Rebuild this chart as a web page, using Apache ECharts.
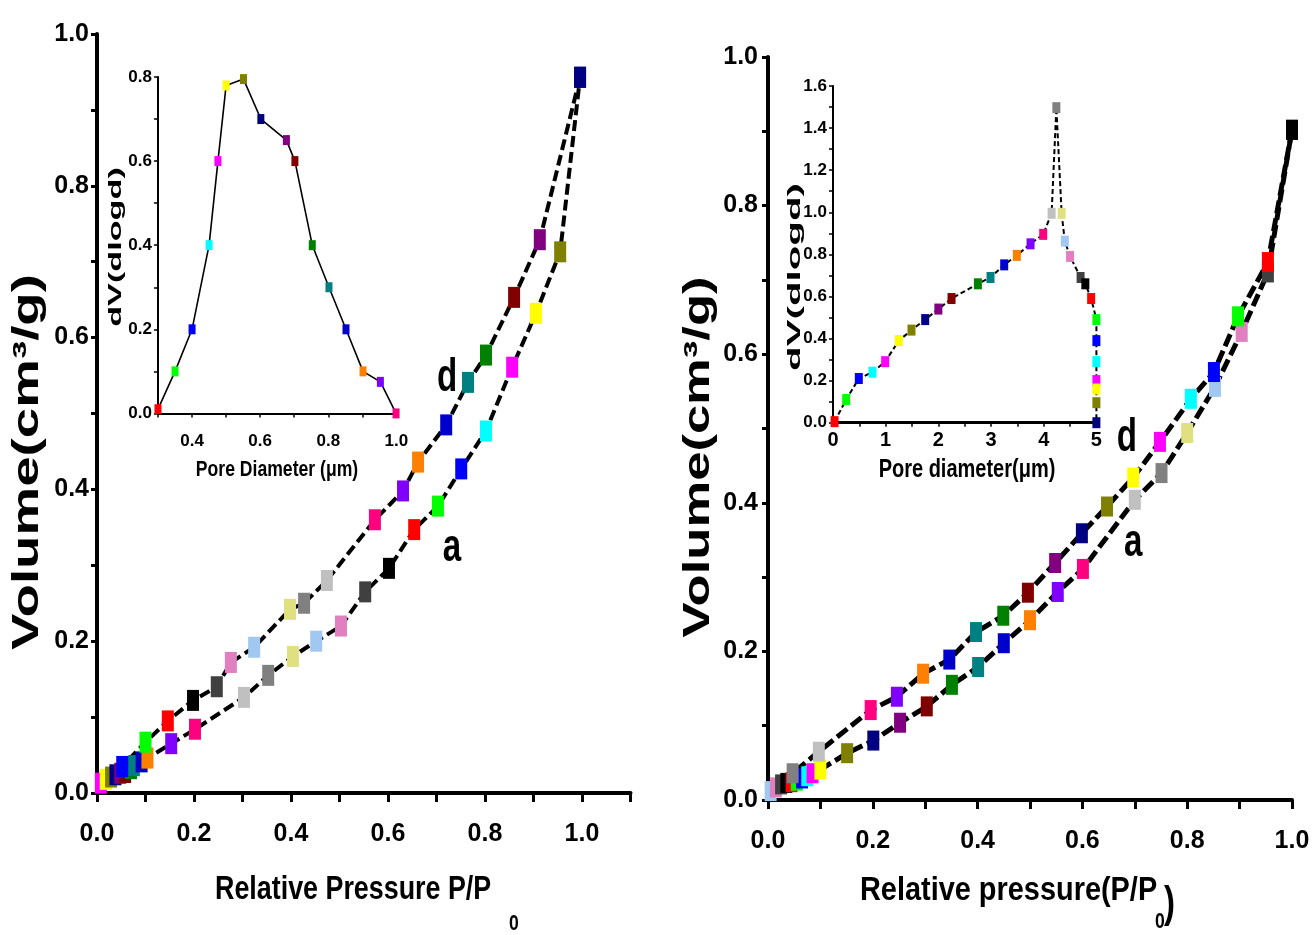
<!DOCTYPE html>
<html><head><meta charset="utf-8">
<script src="https://cdn.jsdelivr.net/npm/echarts@6/dist/echarts.min.js"></script>
<style>html,body{margin:0;padding:0;background:#fff}#c{width:1313px;height:935px}</style>
</head><body><div id="c"></div>
<script>
// ---- Origin-style palette (styles only) ----
const PAL = {black:'#000000', red:'#FF0000', green:'#00FF00', blue:'#0000FF', cyan:'#00FFFF', magenta:'#FF00FF',
  yellow:'#FFFF00', dkyellow:'#808000', navy:'#000080', purple:'#800080', wine:'#800000', olive:'#008000',
  dkcyan:'#008080', royal:'#0000CC', orange:'#FF8000', violet:'#8000FF', pink:'#FF0080', ltgray:'#C0C0C0',
  gray:'#808080', ltyellow:'#E0E080', ltblue:'#A0C8F0', ltpink:'#E080C0', dkgray:'#404040'};

// ---- Left main: isotherm (P/P0 vs volume) ----
const leftA_P = [0.008,0.018,0.029,0.038,0.048,0.058,0.070,0.076,0.092,0.104,0.153,0.202,0.303,0.353,0.404,0.452,0.503,0.553,0.602,0.654,0.703,0.751,0.802,0.856,0.905,0.955,0.996];
const leftA_V = [0.013,0.018,0.021,0.024,0.026,0.027,0.032,0.036,0.041,0.046,0.065,0.084,0.126,0.155,0.180,0.200,0.220,0.265,0.296,0.347,0.378,0.427,0.477,0.561,0.632,0.713,0.943];
const leftA_C = ['magenta','yellow','dkyellow','navy','purple','wine','olive','dkcyan','royal','orange','violet','pink','ltgray','gray','ltyellow','ltblue','ltpink','dkgray','black','red','green','blue','cyan','magenta','yellow','dkyellow','navy'];
const leftD_P = [0.996,0.913,0.860,0.802,0.765,0.720,0.662,0.631,0.573,0.474,0.427,0.398,0.324,0.276,0.247,0.198,0.146,0.100,0.052];
const leftD_V = [0.943,0.729,0.653,0.577,0.541,0.485,0.436,0.398,0.360,0.280,0.250,0.242,0.192,0.172,0.140,0.122,0.095,0.067,0.035];
const leftD_C = ['navy','purple','wine','olive','dkcyan','royal','orange','violet','pink','ltgray','gray','ltyellow','ltblue','ltpink','dkgray','black','red','green','blue'];

// ---- Right main ----
const rightA_P = [0.005,0.015,0.025,0.035,0.045,0.055,0.065,0.075,0.085,0.100,0.151,0.201,0.252,0.303,0.351,0.401,0.450,0.500,0.553,0.601,0.700,0.751,0.800,0.853,0.904,0.954,1.000];
const rightA_V = [0.012,0.017,0.021,0.023,0.024,0.026,0.029,0.032,0.036,0.041,0.063,0.080,0.104,0.126,0.155,0.179,0.211,0.242,0.280,0.311,0.404,0.440,0.494,0.556,0.630,0.710,0.902];
const rightA_C = ['ltblue','ltpink','dkgray','black','red','green','blue','cyan','magenta','yellow','dkyellow','navy','purple','wine','olive','dkcyan','royal','orange','violet','pink','ltgray','gray','ltyellow','ltblue','ltpink','dkgray','black'];
const rightD_P = [1.000,0.954,0.897,0.851,0.807,0.748,0.697,0.647,0.599,0.548,0.496,0.449,0.397,0.346,0.296,0.246,0.196,0.097,0.047];
const rightD_V = [0.902,0.724,0.651,0.576,0.540,0.482,0.434,0.395,0.359,0.319,0.279,0.248,0.226,0.189,0.170,0.139,0.121,0.065,0.036];
const rightD_C = ['black','red','green','blue','cyan','magenta','yellow','dkyellow','navy','purple','wine','olive','dkcyan','royal','orange','violet','pink','ltgray','gray'];

// ---- Left inset: pore size distribution ----
const leftIn_D = [0.30,0.35,0.40,0.45,0.476,0.50,0.551,0.602,0.677,0.702,0.753,0.802,0.852,0.902,0.953,0.999];
const leftIn_V = [0.01,0.10,0.20,0.40,0.60,0.78,0.795,0.70,0.65,0.60,0.40,0.30,0.20,0.10,0.075,0.00];
const leftIn_C = ['red','green','blue','cyan','magenta','yellow','dkyellow','navy','purple','wine','olive','dkcyan','royal','orange','violet','pink'];

// ---- Right inset ----
const rightIn_D = [0.03,0.25,0.49,0.75,0.99,1.25,1.49,1.75,2.00,2.25,2.75,2.99,3.25,3.49,3.75,3.99,4.15,4.24,4.34,4.40,4.50,4.70,4.79,4.90,5.0,5.0,5.0,5.0,5.0,5.0,5.0];
const rightIn_V = [0.005,0.11,0.21,0.24,0.29,0.39,0.44,0.49,0.54,0.59,0.66,0.69,0.75,0.795,0.85,0.895,0.995,1.497,0.995,0.863,0.79,0.69,0.66,0.59,0.49,0.39,0.29,0.20,0.16,0.095,0.0];
const rightIn_C = ['red','green','blue','cyan','magenta','yellow','dkyellow','navy','purple','wine','olive','dkcyan','royal','orange','violet','pink','ltgray','gray','ltyellow','ltblue','ltpink','dkgray','black','red','green','blue','cyan','magenta','yellow','dkyellow','navy'];

// ---- Curve labels (data coordinates) ----
const LABEL_LEFT_D = [0.722, 0.547], LABEL_LEFT_A = [0.732, 0.323];
const LABEL_RIGHT_D = [0.685, 0.487], LABEL_RIGHT_A = [0.697, 0.346];

const ARIAL = "'Liberation Sans',Arial,sans-serif";
const BOLD = px => "bold " + px + "px 'Liberation Sans', Arial, sans-serif";

function pts(xs, ys, cs) { return xs.map((x, i) => ({ value: [x, ys[i]], itemStyle: { color: PAL[cs[i]] } })); }
const evenTenth = v => (Math.round(v * 10) % 2 === 0) ? v.toFixed(1) : '';
const intOnly = v => (Math.abs(v - Math.round(v)) < 1e-6) ? String(Math.round(v)) : '';

function axis(o) {
  return Object.assign({
    type: 'value', splitLine: { show: false },
    axisLine: { show: true, onZero: false, lineStyle: { color: '#000', width: o.lw || 4 } },
    axisTick: { show: true, inside: false, length: o.tl || 8, lineStyle: { color: '#000', width: o.tw || 3 } },
    axisLabel: { show: true, margin: o.margin, formatter: o.fmt, color: '#000', fontFamily: ARIAL, fontWeight: 'bold', fontSize: o.fs }
  }, o.extra);
}

function lineSeries(xi, data, o) {
  return Object.assign({
    type: 'line', xAxisIndex: xi, yAxisIndex: xi, data: data, symbol: 'rect', symbolSize: o.ss,
    showAllSymbol: true, animation: false, emphasis: { disabled: true },
    lineStyle: { color: '#000', width: o.lw, type: o.dash }
  }, o.extra || {});
}

function txt(text, x, y, px, opt) {
  opt = opt || {};
  return { type: 'text', x: x, y: y, rotation: opt.rot || 0, scaleX: opt.sx || 1, silent: true, z: 100,
    style: { text: text, font: BOLD(px), fill: '#000', align: opt.align || 'center', verticalAlign: 'middle',
      textAlign: opt.align || 'center', textVerticalAlign: 'middle' } };
}

const chart = echarts.init(document.getElementById('c'), null, { renderer: 'canvas' });
chart.setOption({
  backgroundColor: '#fff',
  animation: false,
  grid: [
    { left: 97, top: 34, width: 533.5, height: 759, containLabel: false, outerBoundsMode: 'none' },
    { left: 768, top: 57, width: 524, height: 743, containLabel: false, outerBoundsMode: 'none' },
    { left: 158, top: 77, width: 238.4, height: 336.4, containLabel: false, outerBoundsMode: 'none' },
    { left: 833, top: 86, width: 263.4, height: 336.7, containLabel: false, outerBoundsMode: 'none' }
  ],
  xAxis: [
    axis({ margin: 29, fmt: evenTenth, fs: 25, tl: 9, extra: { gridIndex: 0, min: 0, max: 1.1, interval: 0.1 } }),
    axis({ margin: 29, fmt: evenTenth, fs: 25, tl: 9, extra: { gridIndex: 1, min: 0, max: 1.0, interval: 0.1 } }),
    axis({ margin: 19, fmt: evenTenth, fs: 17, lw: 2, tl: 4, tw: 1.5, extra: { gridIndex: 2, min: 0.3, max: 1.0, interval: 0.1 } }),
    axis({ margin: 8, fmt: intOnly, fs: 20, lw: 3, tl: 4, tw: 1.5, extra: { gridIndex: 3, min: 0, max: 5, interval: 0.5 } })
  ],
  yAxis: [
    axis({ margin: 8, fmt: evenTenth, fs: 25, tl: 6, tw: 3, extra: { gridIndex: 0, min: 0, max: 1.0, interval: 0.1 } }),
    axis({ margin: 10, fmt: evenTenth, fs: 25, tl: 6, tw: 3, extra: { gridIndex: 1, min: 0, max: 1.0, interval: 0.1 } }),
    axis({ margin: 6, fmt: evenTenth, fs: 17, lw: 2, tl: 4, tw: 1.5, extra: { gridIndex: 2, min: 0, max: 0.8, interval: 0.1 } }),
    axis({ margin: 6, fmt: evenTenth, fs: 17, lw: 2, tl: 4, tw: 1.5, extra: { gridIndex: 3, min: 0, max: 1.6, interval: 0.1 } })
  ],
  series: [
    lineSeries(0, pts(leftA_P, leftA_V, leftA_C), { ss: [12, 21], lw: 4, dash: [11, 5], extra: { name: 'a' } }),
    lineSeries(0, pts(leftD_P, leftD_V, leftD_C), { ss: [12, 21], lw: 4, dash: [11, 5], extra: { name: 'd' } }),
    lineSeries(1, pts(rightA_P, rightA_V, rightA_C), { ss: [12, 20], lw: 5, dash: [13, 5], extra: { name: 'a' } }),
    lineSeries(1, pts(rightD_P, rightD_V, rightD_C), { ss: [12, 20], lw: 5, dash: [13, 5], extra: { name: 'd' } }),
    lineSeries(2, pts(leftIn_D, leftIn_V, leftIn_C), { ss: [7, 10], lw: 1.6, dash: 'solid', extra: { z: 5 } }),
    lineSeries(3, pts(rightIn_D, rightIn_V, rightIn_C), { ss: [8, 11], lw: 2, dash: [5, 3], extra: { z: 5 } })
  ]
});

// Curve labels placed through the axes' own scales
const pLD = chart.convertToPixel({ gridIndex: 0 }, LABEL_LEFT_D);
const pLA = chart.convertToPixel({ gridIndex: 0 }, LABEL_LEFT_A);
const pRD = chart.convertToPixel({ gridIndex: 1 }, LABEL_RIGHT_D);
const pRA = chart.convertToPixel({ gridIndex: 1 }, LABEL_RIGHT_A);

chart.setOption({
  graphic: [
    // y-axis titles
    txt('Volume(cm³/g)', 28, 462, 36, { rot: Math.PI / 2, sx: 1.52 }),
    txt('Volume(cm³/g)', 699, 457, 36, { rot: Math.PI / 2, sx: 1.46 }),
    txt('dV(dlogd)', 116, 247, 18, { rot: Math.PI / 2, sx: 1.9 }),
    txt('dV(dlogd)', 795, 277, 19, { rot: Math.PI / 2, sx: 2.12 }),
    // x-axis titles
    txt('Relative Pressure P/P', 215, 890, 34, { align: 'left', sx: 0.79 }),
    txt('0', 509, 924, 22, { align: 'left', sx: 0.8 }),
    txt('Relative pressure(P/P', 860, 891, 34, { align: 'left', sx: 0.85 }),
    txt('0', 1155, 922, 22, { align: 'left', sx: 0.8 }),
    txt(')', 1164, 905, 44, { align: 'left', sx: 0.75 }),
    txt('Pore Diameter (μm)', 277, 470, 22, { sx: 0.8 }),
    txt('Pore diameter(μm)', 967, 470, 25, { sx: 0.8 }),
    // curve labels
    txt('d', pLD[0], pLD[1], 46, { sx: 0.72 }),
    txt('a', pLA[0], pLA[1], 46, { sx: 0.72 }),
    txt('d', pRD[0], pRD[1], 46, { sx: 0.72 }),
    txt('a', pRA[0], pRA[1], 46, { sx: 0.72 })
  ]
});
</script></body></html>
